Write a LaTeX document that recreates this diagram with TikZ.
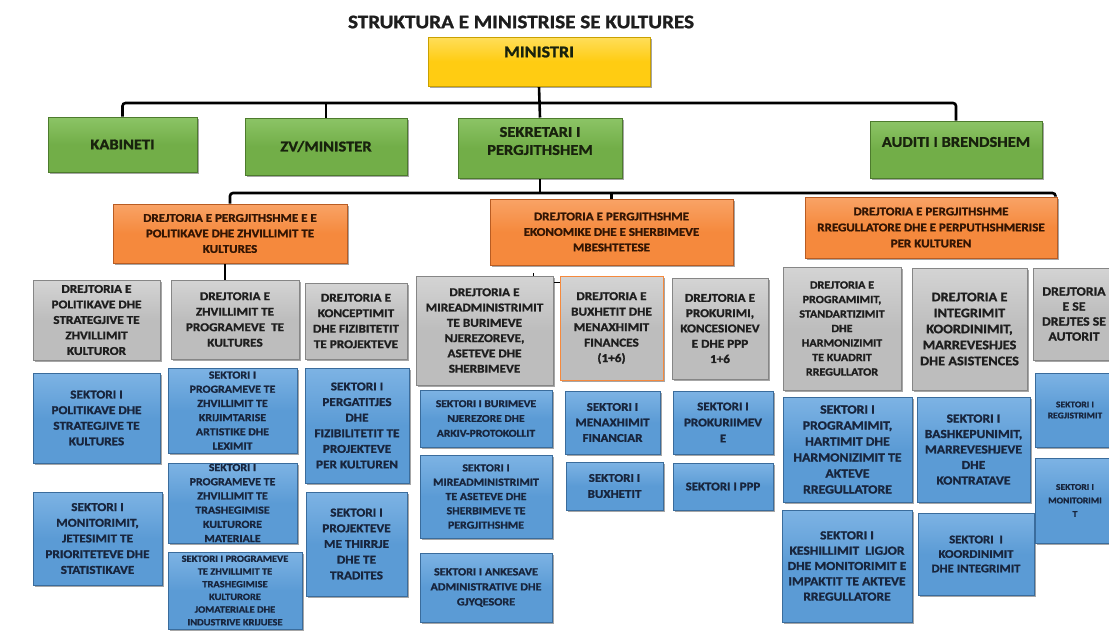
\documentclass[tikz,border=0pt]{standalone}
\usepackage{fontspec}
\setmainfont{Carlito}[FakeStretch=1.1, BoldFeatures={FakeBold=1.3}]
\usetikzlibrary{shadows}
\definecolor{ylwF}{HTML}{FFCC12}
\definecolor{ylwL}{HTML}{FFDE5A}
\definecolor{ylwD}{HTML}{C9A000}
\definecolor{grnF}{HTML}{72AE48}
\definecolor{grnL}{HTML}{8CC466}
\definecolor{grnD}{HTML}{4D7B2D}
\definecolor{orgF}{HTML}{F5893D}
\definecolor{orgL}{HTML}{F9A366}
\definecolor{orgD}{HTML}{B95C22}
\definecolor{gryF}{HTML}{BDBDBD}
\definecolor{gryL}{HTML}{D4D4D4}
\definecolor{gryD}{HTML}{868686}
\definecolor{bluF}{HTML}{5B9BD5}
\definecolor{bluL}{HTML}{7DB3E4}
\definecolor{bluD}{HTML}{3A6C9C}
\definecolor{txtK}{HTML}{1E1E1E}
\definecolor{txtB}{HTML}{18253D}
\definecolor{txtO}{HTML}{331503}
\definecolor{txtG}{HTML}{18220D}
\newcommand\fs[2]{\fontsize{#1}{#2}\selectfont\bfseries}
\newcommand\orgbox[7]{\node[#1, minimum width={(#5-#3)*1pt}, minimum height={(#6-#4)*1pt}] (#2) at ({(#3+#5)/2},{(#4+#6)/2}) {#7};}
\pgfdeclarelayer{bg}
\pgfsetlayers{bg,main}
\tikzset{
  base/.style={rectangle, inner sep=0pt, align=center, line width=1pt,
    drop shadow={shadow xshift=1.6pt, shadow yshift=-1.6pt, opacity=0.35, fill=black}},
  ylw/.style={base, draw=ylwD, top color=ylwL, bottom color=ylwF, middle color=ylwF, text=txtG},
  grn/.style={base, draw=grnD, top color=grnL, bottom color=grnF, middle color=grnF, text=txtG, font={\fs{15}{18}}},
  org/.style={base, draw=orgD, top color=orgL, bottom color=orgF, middle color=orgF, text=txtO, font={\fs{11.8}{15.5}}},
  gry/.style={base, draw=gryD, top color=gryL, bottom color=gryF, middle color=gryF, text=txtK, font={\fs{12}{15.5}}},
  blu/.style={base, draw=bluD, top color=bluL, bottom color=bluF, middle color=bluF, text=txtB, font={\fs{12}{15.6}}},
  conn/.style={draw=black, line width=2.6pt},
  thinconn/.style={draw=black, line width=1.4pt}
}
\begin{document}
\begin{tikzpicture}[x=1pt,y=-1pt]
\useasboundingbox (0,0) rectangle (1109,630);
\clip (0,0) rectangle (1109,630);
\begin{pgfonlayer}{bg}
\fill[white] (0,0) rectangle (1109,630);
\end{pgfonlayer}

\node[font={\fs{19.2}{22}}, text=txtK, inner sep=0pt] (title) at (521,22) {STRUKTURA E MINISTRISE SE KULTURES};

% top levels
\orgbox{ylw, label={[font={\fs{16.5}{19}}, text=txtG, yshift=9.5pt]center:MINISTRI}}{min}{428}{37}{650}{86}{}
\orgbox{grn}{kab}{48}{117}{197}{172}{KABINETI}
\orgbox{grn}{zv}{245}{118}{407}{175}{ZV/MINISTER}
\orgbox{grn, label={[font={\fs{15}{18}}, text=txtG, align=center, yshift=7pt]center:SEKRETARI I\\PERGJITHSHEM}}{sek}{458}{118}{622}{178}{}
\orgbox{grn, label={[font={\fs{15}{18}}, text=txtG, yshift=7.5pt]center:AUDITI I BRENDSHEM}}{aud}{870}{121}{1042}{178}{}

% general directorates
\orgbox{org}{o1}{113}{204}{347}{263}{DREJTORIA E PERGJITHSHME E E\\POLITIKAVE DHE ZHVILLIMIT TE\\KULTURES}
\orgbox{org}{o2}{490}{199}{733}{265}{DREJTORIA E PERGJITHSHME\\EKONOMIKE DHE E SHERBIMEVE\\MBESHTETESE}
\orgbox{org, font={\fs{11.8}{16}}}{o3}{805}{197}{1057}{258}{DREJTORIA E PERGJITHSHME\\RREGULLATORE DHE E PERPUTHSHMERISE\\PER KULTUREN}

% directorates (gray)
\orgbox{gry}{g1}{33}{280}{160}{360}{DREJTORIA E\\POLITIKAVE DHE\\STRATEGJIVE TE\\ZHVILLIMIT\\KULTUROR}
\orgbox{gry}{g2}{171}{280}{299}{359}{DREJTORIA E\\ZHVILLIMIT TE\\PROGRAMEVE\ \ TE\\KULTURES}
\orgbox{gry}{g3}{305}{283}{407}{359}{DREJTORIA E\\KONCEPTIMIT\\DHE FIZIBITETIT\\TE PROJEKTEVE}
\orgbox{gry, font={\fs{12}{15.3}}}{g4}{416}{276}{553}{385}{DREJTORIA E\\MIREADMINISTRIMIT\\TE BURIMEVE\\NJEREZOREVE,\\ASETEVE DHE\\SHERBIMEVE}
\orgbox{gry, draw=orgF}{g5}{560}{276}{663}{380}{DREJTORIA E\\BUXHETIT DHE\\MENAXHIMIT\\FINANCES\\(1+6)}
\orgbox{gry, font={\fs{12}{15.3}}}{g6}{672}{278}{768}{379}{DREJTORIA E\\PROKURIMI,\\KONCESIONEV\\E DHE PPP\\1+6}
\orgbox{gry, font={\fs{11}{14.5}}}{g7}{783}{267}{901}{390}{DREJTORIA E\\PROGRAMIMIT,\\STANDARTIZIMIT\\DHE\\HARMONIZIMIT\\TE KUADRIT\\RREGULLATOR}
\orgbox{gry, font={\fs{13}{16}}}{g8}{912}{268}{1027}{390}{DREJTORIA E\\INTEGRIMIT\\KOORDINIMIT,\\MARREVESHJES\\DHE ASISTENCES}
\orgbox{gry, font={\fs{12.5}{15}}}{g9}{1033}{268}{1115}{360}{DREJTORIA\\E SE\\DREJTES SE\\AUTORIT}

% sectors (blue)
\orgbox{blu}{b1}{33}{373}{160}{463}{SEKTORI I\\POLITIKAVE DHE\\STRATEGJIVE TE\\KULTURES}
\orgbox{blu, font={\fs{12}{15.7}}}{b2}{33}{492}{162}{585}{SEKTORI I\\MONITORIMIT,\\JETESIMIT TE\\PRIORITETEVE DHE\\STATISTIKAVE}
\orgbox{blu, font={\fs{10.8}{14.2}}}{b3}{168}{368}{297}{453}{SEKTORI I\\PROGRAMEVE TE\\ZHVILLIMIT TE\\KRIJIMTARISE\\ARTISTIKE DHE\\LEXIMIT}
\orgbox{blu, font={\fs{10.8}{14.2}}}{b4}{168}{463}{297}{543}{SEKTORI I\\PROGRAMEVE TE\\ZHVILLIMIT TE\\TRASHEGIMISE\\KULTURORE\\MATERIALE}
\orgbox{blu, font={\fs{9.5}{12.7}}}{b5}{168}{552}{302}{629}{SEKTORI I PROGRAMEVE\\TE ZHVILLIMIT TE\\TRASHEGIMISE\\KULTURORE\\JOMATERIALE DHE\\INDUSTRIVE KRIJUESE}
\orgbox{blu}{b6}{305}{368}{409}{483}{SEKTORI I\\PERGATITJES\\DHE\\FIZIBILITETIT TE\\PROJEKTEVE\\PER KULTUREN}
\orgbox{blu, font={\fs{12}{15.7}}}{b7}{306}{492}{407}{596}{SEKTORI I\\PROJEKTEVE\\ME THIRRJE\\DHE TE\\TRADITES}
\orgbox{blu, font={\fs{10.5}{14.8}}}{b8}{420}{390}{552}{447}{SEKTORI I BURIMEVE\\NJEREZORE DHE\\ARKIV-PROTOKOLLIT}
\orgbox{blu, font={\fs{10.8}{14.3}}}{b9}{420}{455}{552}{538}{SEKTORI I\\MIREADMINISTRIMIT\\TE ASETEVE DHE\\SHERBIMEVE TE\\PERGJITHSHME}
\orgbox{blu, font={\fs{11}{15}}}{b10}{420}{553}{552}{622}{SEKTORI I ANKESAVE\\ADMINISTRATIVE DHE\\GJYQESORE}
\orgbox{blu, font={\fs{11.8}{15.5}}}{b11}{565}{391}{660}{454}{SEKTORI I\\MENAXHIMIT\\FINANCIAR}
\orgbox{blu, font={\fs{11.8}{16}}}{b12}{566}{462}{663}{510}{SEKTORI I\\BUXHETIT}
\orgbox{blu, font={\fs{11.8}{16}}}{b13}{673}{391}{773}{454}{SEKTORI I\\PROKURIIMEV\\E}
\orgbox{blu, font={\fs{11.7}{16}}}{b14}{673}{463}{773}{510}{SEKTORI I PPP}
\orgbox{blu, font={\fs{12.5}{16}}}{b15}{783}{397}{912}{502}{SEKTORI I\\PROGRAMIMIT,\\HARTIMIT DHE\\HARMONIZIMIT TE\\AKTEVE\\RREGULLATORE}
\orgbox{blu, font={\fs{12.3}{15.5}}}{b16}{917}{397}{1030}{502}{SEKTORI I\\BASHKEPUNIMIT,\\MARREVESHJEVE\\DHE\\KONTRATAVE}
\orgbox{blu, font={\fs{12.3}{15.3}}}{b17}{782}{510}{912}{622}{SEKTORI I\\KESHILLIMIT\ \ LIGJOR\\DHE MONITORIMIT E\\IMPAKTIT TE AKTEVE\\RREGULLATORE}
\orgbox{blu, font={\fs{11.6}{14.5}}}{b18}{918}{513}{1034}{595}{SEKTORI\ \ I\\KOORDINIMIT\\DHE INTEGRIMIT}
\orgbox{blu, font={\fs{8.7}{11}}}{b19}{1035}{373}{1115}{447}{SEKTORI I\\REGJISTRIMIT}
\orgbox{blu, font={\fs{8.7}{13.5}}}{b20}{1035}{458}{1115}{543}{SEKTORI I\\MONITORIMI\\T}

% connectors
\begin{pgfonlayer}{bg}
\coordinate (busA) at (540,103);
\coordinate (busB) at (540,193);
\draw[conn] (min.south) -- (sek.north);
\draw[conn, rounded corners=3pt] (kab.north) |- (busA) -| (aud.north);
\draw[conn] (zv.north) -- (zv.north |- busA);
\draw[conn] (sek.south) -- (busB);
\draw[conn, rounded corners=3pt] (o1.north) |- (busB) -| ([xshift=-2pt]o3.north east);
\draw[conn] (o2.north) -- (o2.north |- busB);
\draw[conn] ([xshift=-5pt]o1.south) -- ([xshift=-5pt]o1.south |- g2.north);
\draw[thinconn] ([xshift=-20pt]g4.north east) -- ([xshift=-20pt,yshift=3pt]g4.north east);
\draw[thinconn] ([yshift=-7pt]g4.north east) -- ([yshift=-7pt]g5.north west);
\end{pgfonlayer}
\end{tikzpicture}
\end{document}
